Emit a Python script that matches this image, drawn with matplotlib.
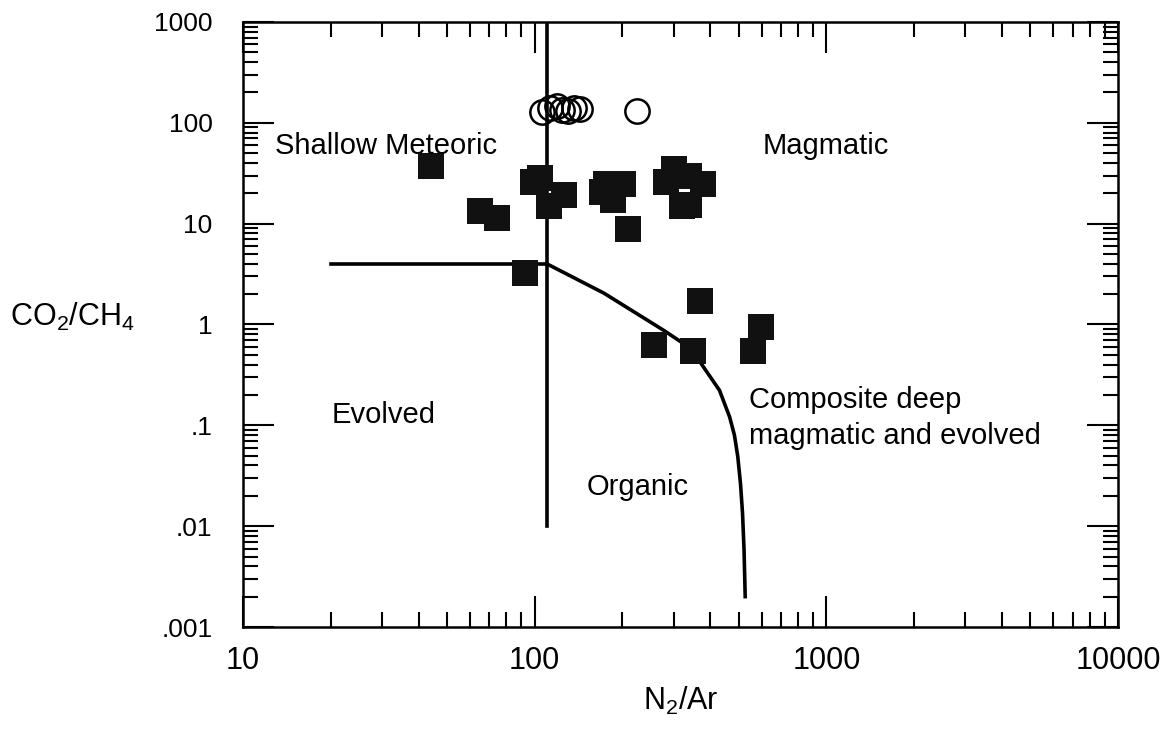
import matplotlib
matplotlib.use('Agg')
import matplotlib.pyplot as plt
from matplotlib.ticker import FixedLocator, FixedFormatter, NullFormatter, LogLocator

plt.rcParams['font.family'] = ['Liberation Sans', 'DejaVu Sans']
plt.rcParams['mathtext.fontset'] = 'custom'
plt.rcParams['mathtext.rm'] = 'Liberation Sans'

# filled squares (N2/Ar, CO2/CH4)
sq_n2ar = [44, 65, 74, 93, 99, 104, 112, 126, 170, 175, 186, 201, 209,
           281, 301, 321, 339, 339, 377, 370, 257, 350, 561, 598]
sq_co2ch4 = [37, 13.5, 11.5, 3.25, 26, 28.6, 14.9, 19.3, 20.5, 25, 17, 25, 8.8,
             26, 35, 15, 30, 15.2, 24.7, 1.7, 0.63, 0.55, 0.54, 0.95]

# open circles
ci_n2ar = [106, 113, 119, 124, 130, 136, 143, 224]
ci_co2ch4 = [129, 140, 146, 135, 132, 139, 137, 130]

# field boundaries
vline_x = [110, 110]
vline_y = [1000, 0.01]
hline_x = [20, 110]
hline_y = [4, 4]
curve_x = [110, 173, 276, 323, 372, 430, 466, 484, 497, 508, 516, 522, 527]
curve_y = [4, 2.04, 0.88, 0.65, 0.41, 0.223, 0.121, 0.08, 0.049, 0.026, 0.0134, 0.006, 0.002]

xticks = [10, 100, 1000, 10000]
xticklabels = ['10', '100', '1000', '10000']
yticks = [0.001, 0.01, 0.1, 1, 10, 100, 1000]
yticklabels = ['.001', '.01', '.1', '1', '10', '100', '1000']

fig = plt.figure(figsize=(11.74, 7.40), dpi=100)
ax = fig.add_axes([0.207, 0.1527, 0.7453, 0.8176])
ax.set_xscale('log')
ax.set_yscale('log')
ax.set_xlim(10, 10000)
ax.set_ylim(0.001, 1000)

lw = 2.6
ax.plot(vline_x, vline_y, color='black', lw=lw, zorder=2)
ax.plot(hline_x, hline_y, color='black', lw=lw, zorder=2)
ax.plot(curve_x, curve_y, color='black', lw=lw, zorder=2, solid_joinstyle='round')

ax.plot(sq_n2ar, sq_co2ch4, 's', color='#111111', ms=18.5, mew=0, ls='none', zorder=3)
ax.plot(ci_n2ar, ci_co2ch4, 'o', mfc='none', mec='black', ms=17.5, mew=1.8, ls='none', zorder=3)

fs = 21
ax.text(12.85, 59, 'Shallow Meteoric', fontsize=fs, va='center', ha='left')
ax.text(605, 59, 'Magmatic', fontsize=fs, va='center', ha='left')
ax.text(20.2, 0.126, 'Evolved', fontsize=fs, va='center', ha='left')
ax.text(151, 0.0245, 'Organic', fontsize=fs, va='center', ha='left')
ax.text(545, 0.118, 'Composite deep\nmagmatic and evolved', fontsize=fs,
        va='center', ha='left', linespacing=1.4)

ax.xaxis.set_major_locator(FixedLocator(xticks))
ax.xaxis.set_major_formatter(FixedFormatter(xticklabels))
ax.yaxis.set_major_locator(FixedLocator(yticks))
ax.yaxis.set_major_formatter(FixedFormatter(yticklabels))
ax.xaxis.set_minor_locator(LogLocator(base=10, subs=range(2, 10), numticks=20))
ax.yaxis.set_minor_locator(LogLocator(base=10, subs=range(2, 10), numticks=20))
ax.xaxis.set_minor_formatter(NullFormatter())
ax.yaxis.set_minor_formatter(NullFormatter())

ax.tick_params(which='both', direction='in', top=True, right=True, width=1.5)
ax.tick_params(which='major', length=22)
ax.tick_params(which='minor', length=11)
ax.tick_params(axis='x', which='major', labelsize=22, pad=14)
ax.tick_params(axis='y', which='major', labelsize=19, pad=22)
for s in ax.spines.values():
    s.set_linewidth(1.8)

ax.set_xlabel(r'$\mathrm{N_2/Ar}$', fontsize=22)
ax.xaxis.set_label_coords(0.5, -0.122)
ax.xaxis.label.set_va('center')
ax.set_ylabel(r'$\mathrm{CO_2/CH_4}$', fontsize=22, rotation=0, ha='left', va='center')
ax.yaxis.set_label_coords(-0.266, 0.512)

fig.savefig('out.png', dpi=100)
